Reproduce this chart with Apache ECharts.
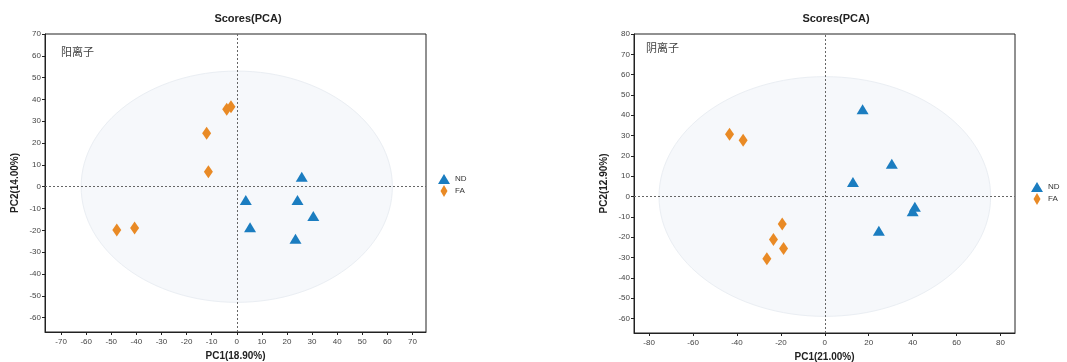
<!DOCTYPE html>
<html><head><meta charset="utf-8">
<script src="https://cdn.jsdelivr.net/npm/echarts@6/dist/echarts.min.js"></script>
<style>html,body{margin:0;padding:0;background:#fff}#c{width:1067px;height:362px}</style>
</head><body><div id="c"></div>
<script>
// Left panel (阳离子)
const posND = [[25.9,4.6],[3.6,-6.1],[24.2,-6.1],[30.5,-13.4],[5.3,-18.6],[23.4,-23.8]];
const posFA = [[-4.0,35.5],[-2.3,36.7],[-12.0,24.5],[-11.3,6.9],[-47.8,-19.9],[-40.7,-18.9]];
const posEllipse = [0, 0, 62, 53];          // cx, cy, rx, ry (data units)
const posXRange = [-76.4, 75.4];
const posYRange = [-66.6, 70];
// Right panel (阴离子)
const negND = [[17.2,43.0],[30.5,16.1],[12.8,7.2],[41.0,-5.1],[40.0,-7.2],[24.6,-16.8]];
const negFA = [[-43.4,30.7],[-37.2,27.7],[-19.4,-13.5],[-23.4,-21.2],[-18.8,-25.6],[-26.4,-30.6]];
const negEllipse = [0, 0, 75.5, 59];
const negXRange = [-86.9, 86.6];
const negYRange = [-67.2, 80];
const titles = ['Scores(PCA)', 'Scores(PCA)'];
const panelLabels = ['阳离子', '阴离子'];
const xNames = ['PC1(18.90%)', 'PC1(21.00%)'];
const yNames = ['PC2(14.00%)', 'PC2(12.90%)'];
const groupNames = ['ND', 'FA'];

const BLUE = '#1b7dc0', ORANGE = '#e98a25';
const FONT = 'Liberation Sans, Arial, sans-serif';
const CJK = '"Noto Sans CJK SC", sans-serif';
const LEG_DIAMOND = 'path://M3.5,0L7,6L3.5,12L0,6Z';
const LEG_TRIANGLE = 'path://M6,0L12,10L0,10Z';

function axisCommon(gi, range, step, name, isY) {
  return {
    type: 'value', gridIndex: gi, min: range[0], max: range[1],
    splitNumber: Math.round((range[1]-range[0])/step), minInterval: step, maxInterval: step,
    name: name, nameLocation: 'middle', nameGap: isY ? 25 : 19,
    nameTextStyle: {fontFamily: FONT, fontWeight: 'bold', fontSize: 10, color: '#222'},
    axisLine: {show: true, onZero: false, lineStyle: {color: '#222', width: 1}},
    axisTick: {show: true, length: 3, inside: false, lineStyle: {color: '#222'}},
    axisLabel: {fontFamily: FONT, fontSize: 8, color: '#444', margin: isY ? 4 : 6,
      showMinLabel: false, showMaxLabel: isY,
      formatter: v => (Math.abs(v - Math.round(v)) > 1e-6 ? '' : String(Math.round(v)))},
    splitLine: {show: false}
  };
}

function ellipseSeries(gi, e) {
  return {
    type: 'custom', xAxisIndex: gi, yAxisIndex: gi, silent: true, z: 1,
    data: [e],
    renderItem: function (params, api) {
      const c = api.coord([api.value(0), api.value(1)]);
      const s = api.size([api.value(2), api.value(3)]);
      return {type: 'ellipse', shape: {cx: c[0], cy: c[1], rx: s[0], ry: s[1]},
        style: {fill: '#f6f8fb', stroke: '#eaeef3', lineWidth: 1}};
    },
    encode: {x: 0, y: 1}
  };
}

function refLines(gi) {
  return {
    type: 'scatter', xAxisIndex: gi, yAxisIndex: gi, data: [], silent: true, z: 2,
    markLine: {silent: true, symbol: 'none', animation: false, label: {show: false},
      lineStyle: {type: [2, 2], color: '#666', width: 1},
      data: [{xAxis: 0}, {yAxis: 0}]}
  };
}

function pts(gi, name, data) {
  const isND = name === 'ND';
  return {
    type: 'scatter', name: name, xAxisIndex: gi, yAxisIndex: gi, data: data, z: 5,
    symbol: isND ? 'triangle' : 'diamond',
    symbolSize: isND ? [12, 10] : [9, 13],
    itemStyle: {color: isND ? BLUE : ORANGE, opacity: 1}
  };
}

function legendAt(left, top) {
  return {data: [{name: groupNames[0], icon: LEG_TRIANGLE}, {name: groupNames[1], icon: LEG_DIAMOND}],
    orient: 'vertical', left: left, top: top, itemWidth: 12, itemHeight: 12, itemGap: 1,
    textStyle: {fontFamily: FONT, fontSize: 8, color: '#333'}, selectedMode: false};
}

const gridBase = {show: true, borderColor: '#222', borderWidth: 1, backgroundColor: 'transparent',
  containLabel: false, outerBoundsMode: 'none'};

const option = {
  animation: false,
  backgroundColor: '#fff',
  title: [
    {text: titles[0], left: 243, top: 8, textAlign: 'center', textStyle: {fontFamily: FONT, fontSize: 11, fontWeight: 'bold', color: '#222'}},
    {text: titles[1], left: 831, top: 8, textAlign: 'center', textStyle: {fontFamily: FONT, fontSize: 11, fontWeight: 'bold', color: '#222'}},
    {text: panelLabels[0], left: 56, top: 41, textStyle: {fontFamily: CJK, fontSize: 11, fontWeight: 'normal', color: '#444'}},
    {text: panelLabels[1], left: 641, top: 37, textStyle: {fontFamily: CJK, fontSize: 11, fontWeight: 'normal', color: '#444'}}
  ],
  grid: [
    Object.assign({left: 45, top: 34, width: 381, height: 298}, gridBase),
    Object.assign({left: 634, top: 34, width: 381, height: 299}, gridBase)
  ],
  legend: [legendAt(433, 169), legendAt(1026, 177)],
  xAxis: [axisCommon(0, posXRange, 10, xNames[0], false), axisCommon(1, negXRange, 20, xNames[1], false)],
  yAxis: [axisCommon(0, posYRange, 10, yNames[0], true), axisCommon(1, negYRange, 10, yNames[1], true)],
  series: [
    ellipseSeries(0, posEllipse), refLines(0), pts(0, 'ND', posND), pts(0, 'FA', posFA),
    ellipseSeries(1, negEllipse), refLines(1), pts(1, 'ND', negND), pts(1, 'FA', negFA)
  ]
};
echarts.init(document.getElementById('c'), null, {renderer: 'canvas'}).setOption(option);
</script></body></html>
